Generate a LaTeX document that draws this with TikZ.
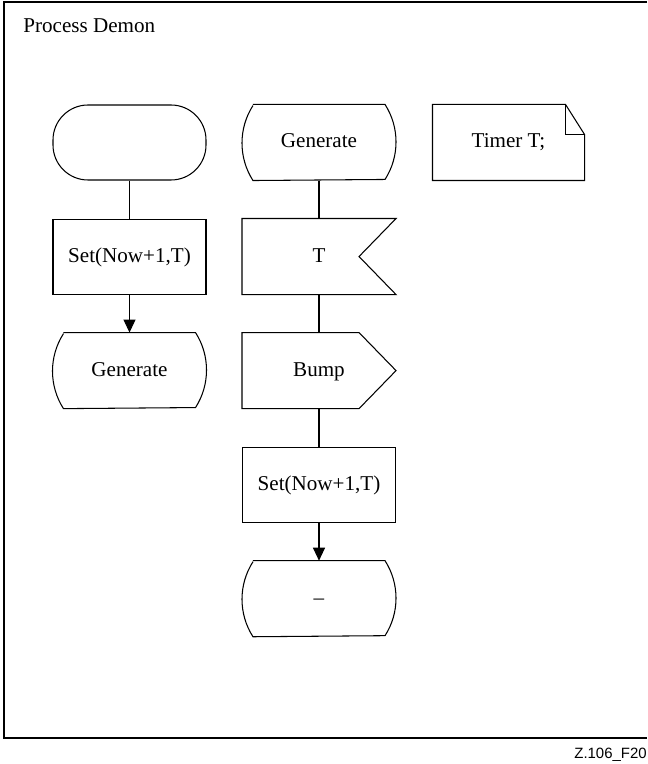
\documentclass[tikz,border=0pt]{standalone}
\usepackage{fontspec}
\setmainfont{Liberation Serif}
\newfontfamily\fignofont{Liberation Sans}
\usepackage{tikz}
\usetikzlibrary{positioning,arrows.meta}

\tikzset{
  sym/.style={minimum width=3.06cm, minimum height=1.5cm, inner sep=0pt, text height=0.3cm, text depth=0.08cm},
  task/.style={sym, draw},
  term/.style={sym, draw, rounded corners=0.7cm},
  flowarrow/.style={-{Triangle[length=0.26cm,width=0.24cm]}},
}

\begin{document}
\begin{tikzpicture}[line width=0.6pt, node distance=0.76cm, font=\fontsize{12}{14}\selectfont]
  \useasboundingbox (0,0) rectangle (12.94,-15.28);
  \def\inset{0.22} % inset of the curved sides of a state
  \def\depth{0.74} % depth of the notch or point of a signal
  % frame
  \draw[line width=0.8pt] (12.94,-0.04) -- (0.08,-0.04) -- (0.08,-14.76) -- (12.94,-14.76);
  \node[anchor=base west] (title) at (0.34,-0.66) {Process Demon};
  \node[anchor=base west, font=\fignofont\fontsize{8.5}{10}\selectfont] (figno) at (11.36,-15.16) {Z.106\_F20};

  % left column
  \node[term] (start) at (2.59,-2.85) {};
  \node[task, below=of start] (set1) {Set(Now+1,T)};
  \node[sym, below=of set1] (gen1) {Generate};
  % middle column
  \node[sym] (gen2) at (6.38,-2.85) {Generate};
  \node[sym, below=of gen2] (sigT) {T};
  \node[sym, below=of sigT] (bump) {Bump};
  \node[task, below=of bump] (set2) {Set(Now+1,T)};
  \node[sym, below=of set2] (stop) {\textendash};
  % text symbol
  \node[sym, minimum width=3.02cm] (timer) at (10.17,-2.85) {Timer T;};

  % states
  \foreach \nd in {gen1,gen2,stop} {
    \draw ([xshift=\inset cm]\nd.north west) -- ([xshift=-\inset cm]\nd.north east)
      arc[start angle=32.65, end angle=-32.65, radius=1.39cm]
      -- ([xshift=\inset cm]\nd.south west)
      arc[start angle=212.65, end angle=147.35, radius=1.39cm];
  }
  % input T
  \draw (sigT.north west) -- (sigT.north east) -- ([xshift=-\depth cm]sigT.east)
    -- (sigT.south east) -- (sigT.south west) -- cycle;
  % output Bump
  \draw (bump.north west) -- ([xshift=-\depth cm]bump.north east) -- (bump.east)
    -- ([xshift=-\depth cm]bump.south east) -- (bump.south west) -- cycle;
  % text symbol with folded corner
  \draw (timer.north west) -- ([xshift=-0.38cm]timer.north east) -- ([yshift=-0.6cm]timer.north east)
    -- (timer.south east) -- (timer.south west) -- cycle;
  \draw ([xshift=-0.38cm]timer.north east) |- ([yshift=-0.6cm]timer.north east);

  % flow lines
  \draw (start) -- (set1);
  \draw[flowarrow] (set1) -- (gen1);
  \draw (gen2) -- (sigT);
  \draw (sigT) -- (bump);
  \draw (bump) -- (set2);
  \draw[flowarrow] (set2) -- (stop);
\end{tikzpicture}
\end{document}
